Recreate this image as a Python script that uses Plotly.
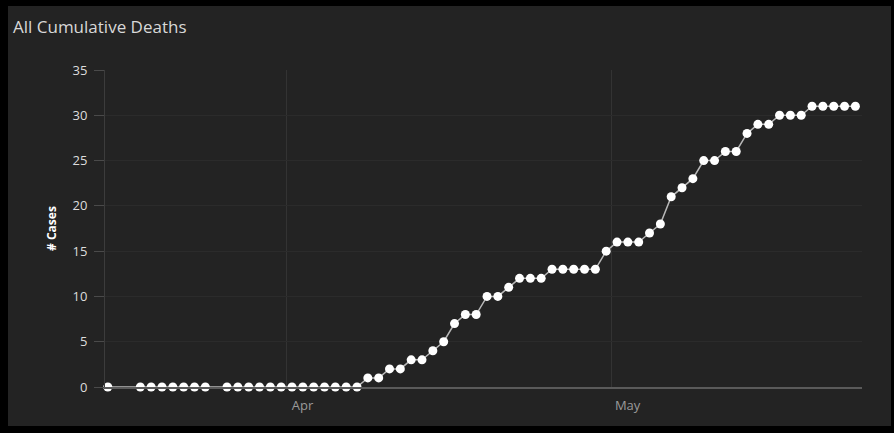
import pandas as pd
import plotly.graph_objects as go

# ---- data ----
date_segments = [
    ("2020-03-15", "2020-03-15"),
    ("2020-03-18", "2020-03-24"),
    ("2020-03-26", "2020-05-23"),
]
deaths = [0,
          0, 0, 0, 0, 0, 0, 0,
          0, 0, 0, 0, 0, 0, 0, 0, 0, 0, 0, 0, 0,
          1, 1, 2, 2, 3, 3, 4, 5, 7, 8, 8, 10, 10, 11, 12, 12, 12,
          13, 13, 13, 13, 13, 15,
          16, 16, 16, 17, 18, 21, 22, 23, 25, 25, 26, 26, 28, 29, 29,
          30, 30, 30, 31, 31, 31, 31, 31]
x_ticks = ["2020-04-01", "2020-05-01"]
x_tick_labels = ["Apr", "May"]
y_ticks = [0, 5, 10, 15, 20, 25, 30, 35]

dates = pd.DatetimeIndex([])
for a, b in date_segments:
    dates = dates.append(pd.date_range(a, b, freq="D"))
# daily reports are stamped at mid-day
dates = dates + pd.Timedelta(hours=12)

# ---- layout constants ----
W, H = 894, 433
ML, MR, MT, MB = 105, 32, 70, 46
PW, PH = W - ML - MR, H - MT - MB
panel_px = dict(x0=8, x1=891, y0=6, y1=426)

def px_to_paper_x(px):
    return (px - ML) / PW

def px_to_paper_y(py):
    return (H - MB - py) / PH

FONT = "'Open Sans', Lato, sans-serif"

fig = go.Figure()
fig.add_trace(go.Scatter(
    x=dates, y=deaths, mode="lines+markers",
    line=dict(color="#b8b8b8", width=1.5),
    marker=dict(color="#ffffff", size=9),
    cliponaxis=False,
    hovertemplate="%{x|%b %d}: %{y}<extra></extra>",
))

fig.add_shape(type="rect", xref="paper", yref="paper", layer="below",
              x0=px_to_paper_x(panel_px["x0"]), x1=px_to_paper_x(panel_px["x1"]),
              y0=px_to_paper_y(panel_px["y1"]), y1=px_to_paper_y(panel_px["y0"]),
              fillcolor="#232323", line=dict(width=0))

fig.update_layout(
    width=W, height=H,
    margin=dict(l=ML, r=MR, t=MT, b=MB),
    paper_bgcolor="#000000",
    plot_bgcolor="rgba(0,0,0,0)",
    showlegend=False,
    font=dict(family=FONT, color="#cccccc"),
    title=dict(text="All Cumulative Deaths", xref="container", yref="container",
               x=13 / W, xanchor="left", y=1 - 27 / H, yanchor="middle",
               font=dict(size=17, color="#d8d8d8", family=FONT)),
)
fig.update_xaxes(
    type="date",
    range=["2020-03-15 05:45", "2020-05-24 02:40"],
    tickvals=x_ticks, ticktext=x_tick_labels,
    showgrid=True, gridcolor="#333333", gridwidth=1,
    showline=True, linecolor="#5a5a5a", linewidth=2,
    ticks="", ticklabelshift=16, ticklabelstandoff=5,
    tickfont=dict(size=13, color="#9a9a9a"),
    zeroline=False,
)
fig.update_yaxes(
    range=[0, 35], tickvals=y_ticks,
    showgrid=True, gridcolor="#2b2b2b", gridwidth=1,
    showline=True, linecolor="#3c3c3c", linewidth=1,
    ticks="outside", ticklen=10, tickcolor="#4a4a4a",
    ticklabelstandoff=4,
    tickfont=dict(size=13, color="#dddddd"),
    zeroline=False,
    title=dict(text="<b># Cases</b>", font=dict(size=12, color="#ffffff"), standoff=13),
)

fig.write_html(
    "out.html",
    config={"displayModeBar": False},
    post_script="document.body.style.margin='0';document.body.style.background='#000';",
)
